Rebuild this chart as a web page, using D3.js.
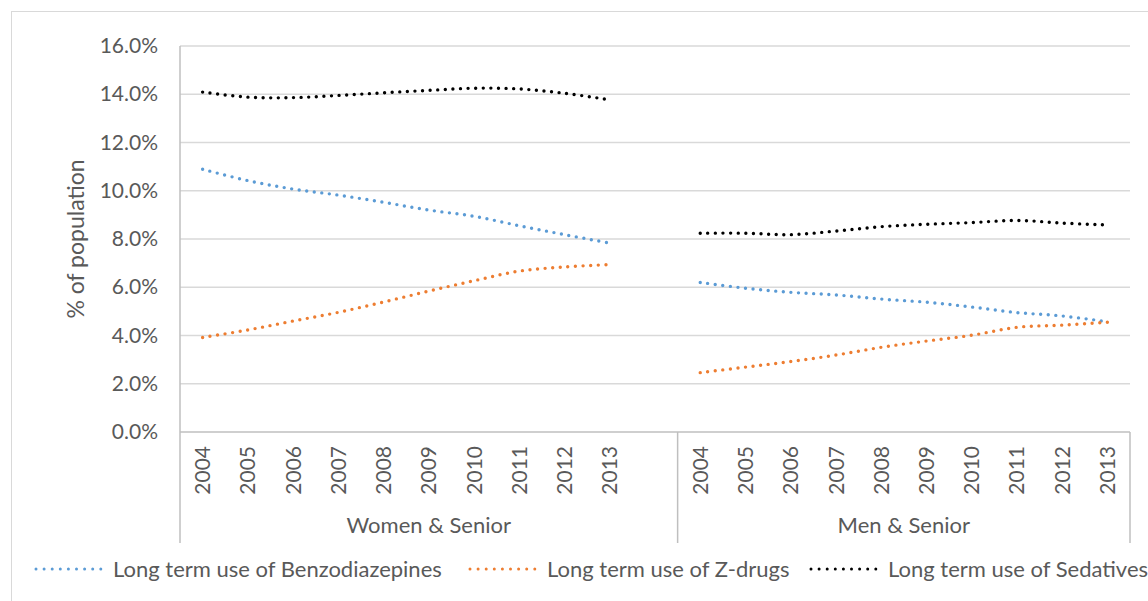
<!DOCTYPE html>
<html>
<head>
<meta charset="utf-8">
<script src="https://cdn.jsdelivr.net/npm/d3@7/dist/d3.min.js"></script>
<style>
  html, body { margin: 0; padding: 0; background: #fff; }
  svg { display: block; }
  text { font-family: Lato, "Open Sans", sans-serif; fill: #595959; }
</style>
</head>
<body>
<svg id="chart" width="1148" height="601"></svg>
<script>
// Years shown under each group
const years = ["2004", "2005", "2006", "2007", "2008", "2009", "2010", "2011", "2012", "2013"];
const groups = ["Women & Senior", "Men & Senior"];

// Share of population (%) per year
const benzoWomen = [10.89, 10.42, 10.07, 9.82, 9.52, 9.20, 8.94, 8.55, 8.18, 7.83];
const zdrugWomen = [3.92, 4.23, 4.60, 4.96, 5.39, 5.84, 6.27, 6.67, 6.84, 6.94];
const sedWomen   = [14.09, 13.88, 13.86, 13.95, 14.06, 14.16, 14.25, 14.22, 14.04, 13.77];

const benzoMen = [6.20, 5.96, 5.79, 5.68, 5.51, 5.38, 5.18, 4.95, 4.81, 4.57];
const zdrugMen = [2.46, 2.69, 2.92, 3.19, 3.51, 3.77, 4.01, 4.34, 4.43, 4.55];
const sedMen   = [8.24, 8.24, 8.18, 8.33, 8.51, 8.61, 8.68, 8.77, 8.66, 8.58];

const yTicks = [0, 2, 4, 6, 8, 10, 12, 14, 16];

const seriesNames = [
  "Long term use of Benzodiazepines",
  "Long term use of Z-drugs",
  "Long term use of Sedatives"
];
const seriesColors = ["#5b9bd5", "#ed7d31", "#000000"];

const svg = d3.select("#chart");
const plot = { left: 180, right: 1130, top: 46, bottom: 432, axisBottom: 543 };

// Chart area frame
svg.append("rect")
  .attr("x", 11.5).attr("y", 11.5)
  .attr("width", 1200).attr("height", 700)
  .attr("fill", "none").attr("stroke", "#d9d9d9").attr("stroke-width", 1);

// Category slots: women years, an empty slot, men years
const keys = [];
years.forEach(y => keys.push("W" + y));
keys.push("gap");
years.forEach(y => keys.push("M" + y));

const x = d3.scaleBand().domain(keys).range([plot.left, plot.right]).padding(0);
const cx = k => x(k) + x.bandwidth() / 2;

const y = d3.scaleLinear().domain([0, 16]).range([plot.bottom, plot.top]);

// Horizontal gridlines
svg.append("g")
  .selectAll("line")
  .data(yTicks.filter(t => t > 0))
  .join("line")
  .attr("x1", plot.left).attr("x2", plot.right)
  .attr("y1", d => y(d)).attr("y2", d => y(d))
  .attr("stroke", "#d9d9d9").attr("stroke-width", 1.5);

// Y axis labels
const yAxis = d3.axisLeft(y).tickValues(yTicks).tickSize(0).tickPadding(22)
  .tickFormat(d => d.toFixed(1) + "%");
const yg = svg.append("g").attr("transform", `translate(${plot.left},0)`).call(yAxis);
yg.select(".domain").remove();
yg.selectAll("text").style("font-size", "21px").attr("fill", "#595959")
  .style("font-family", "Lato, 'Open Sans', sans-serif");

// Axis lines
svg.append("line")
  .attr("x1", plot.left).attr("x2", plot.right)
  .attr("y1", plot.bottom).attr("y2", plot.bottom)
  .attr("stroke", "#bfbfbf").attr("stroke-width", 1.5);
svg.append("line")
  .attr("x1", plot.left).attr("x2", plot.left)
  .attr("y1", plot.top).attr("y2", plot.axisBottom)
  .attr("stroke", "#bfbfbf").attr("stroke-width", 1.5);

// Group separators on the category axis
const sepX = [plot.left, x("gap") + x.bandwidth(), plot.right];
svg.append("g").selectAll("line").data(sepX.slice(1)).join("line")
  .attr("x1", d => d).attr("x2", d => d)
  .attr("y1", plot.bottom).attr("y2", plot.axisBottom)
  .attr("stroke", "#bfbfbf").attr("stroke-width", 1.5);

// Year labels (rotated)
const xAxis = d3.axisBottom(x).tickValues(keys.filter(k => k !== "gap"))
  .tickSize(0).tickFormat(k => k.slice(1));
const xg = svg.append("g").attr("transform", `translate(0,${plot.bottom})`).call(xAxis);
xg.select(".domain").remove();
xg.selectAll("text")
  .style("font-size", "21px").attr("fill", "#595959")
  .style("font-family", "Lato, 'Open Sans', sans-serif")
  .attr("text-anchor", "end")
  .attr("transform", "rotate(-90)")
  .attr("x", -14).attr("y", 0).attr("dy", "0.36em");

// Group labels
const groupCenters = [
  (plot.left + sepX[1]) / 2,
  (sepX[1] + plot.right) / 2
];
svg.append("g").selectAll("text").data(groups).join("text")
  .attr("x", (d, i) => groupCenters[i]).attr("y", 533)
  .attr("text-anchor", "middle").style("font-size", "22px")
  .text(d => d);

// Y axis title
svg.append("text")
  .attr("transform", `translate(84,${(plot.top + plot.bottom) / 2}) rotate(-90)`)
  .attr("text-anchor", "middle").style("font-size", "23px")
  .text("% of population");

// Smoothed dotted series
const line = d3.line()
  .x(d => cx(d.k)).y(d => y(d.v))
  .curve(d3.curveCatmullRom.alpha(0));

const seriesData = [
  [benzoWomen, benzoMen],
  [zdrugWomen, zdrugMen],
  [sedWomen, sedMen]
];

const lineGroup = svg.append("g");
seriesData.forEach((pair, si) => {
  pair.forEach((vals, gi) => {
    const prefix = gi === 0 ? "W" : "M";
    const pts = years.map((yr, i) => ({ k: prefix + yr, v: vals[i] }));
    lineGroup.append("path")
      .attr("d", line(pts))
      .attr("fill", "none")
      .attr("stroke", seriesColors[si])
      .attr("stroke-width", 3.4)
      .attr("stroke-linecap", "round")
      .attr("stroke-dasharray", "0 7.6");
  });
});

// Legend
const legendY = 569;
const legendStarts = [36, 470, 811];
const legend = svg.append("g");
seriesNames.forEach((name, i) => {
  const x0 = legendStarts[i];
  legend.append("line")
    .attr("x1", x0).attr("x2", x0 + 65)
    .attr("y1", legendY).attr("y2", legendY)
    .attr("stroke", seriesColors[i]).attr("stroke-width", 3)
    .attr("stroke-linecap", "round").attr("stroke-dasharray", "0 8.1");
  legend.append("text")
    .attr("x", x0 + 77).attr("y", legendY).attr("dy", "0.35em")
    .style("font-size", "22px")
    .text(name);
});
</script>
</body>
</html>
